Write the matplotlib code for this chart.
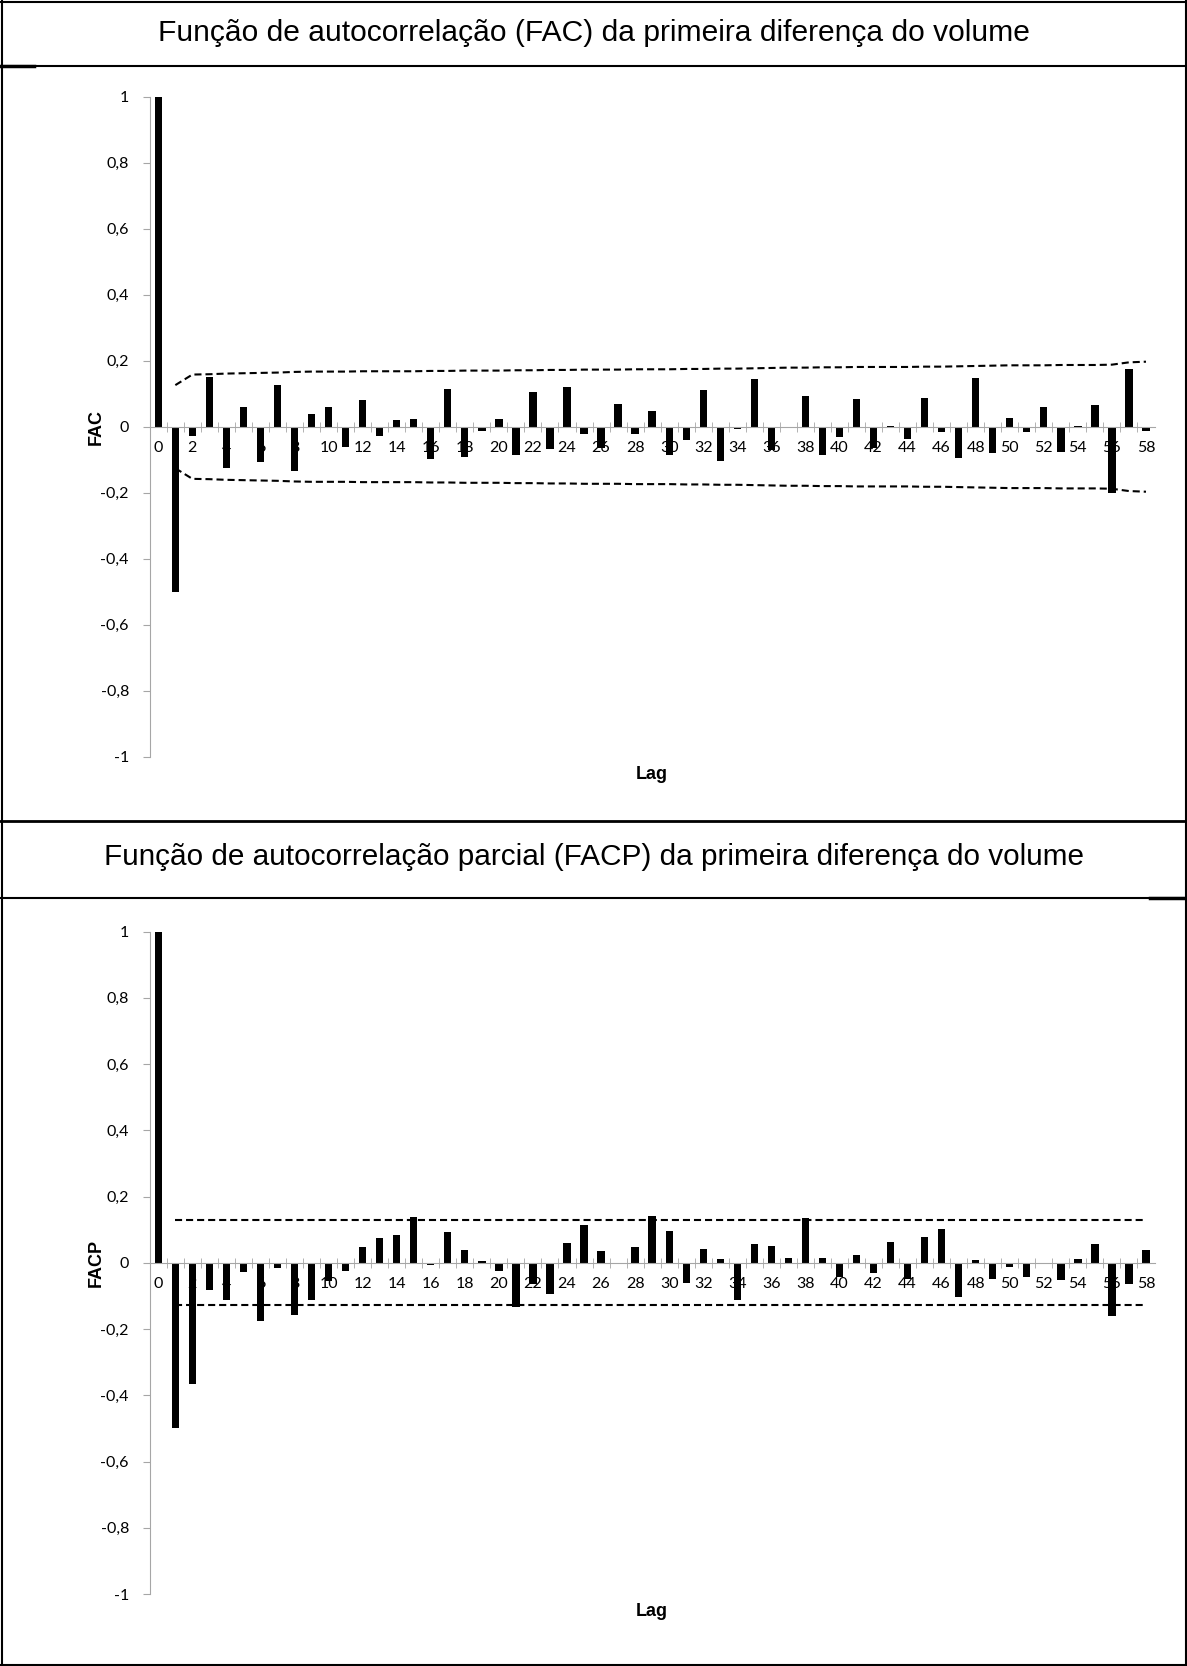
import matplotlib
matplotlib.use("Agg")
import matplotlib.pyplot as plt
from matplotlib.lines import Line2D
from matplotlib.ticker import FixedLocator

# lags 0..58
lags = list(range(59))

fac = [1.0, -0.5, -0.027, 0.152, -0.126, 0.061, -0.106, 0.126, -0.134, 0.040,
       0.061, -0.061, 0.081, -0.027, 0.019, 0.023, -0.099, 0.114, -0.091, -0.013,
       0.024, -0.086, 0.104, -0.068, 0.121, -0.022, -0.066, 0.068, -0.021, 0.048,
       -0.086, -0.040, 0.111, -0.103, -0.008, 0.146, -0.071, -0.002, 0.093, -0.086,
       -0.032, 0.084, -0.066, 0.001, -0.037, 0.087, -0.017, -0.096, 0.148, -0.081,
       0.027, -0.017, 0.059, -0.076, 0.002, 0.066, -0.200, 0.176, -0.014]

facp = [1.0, -0.5, -0.367, -0.083, -0.111, -0.029, -0.175, -0.015, -0.157, -0.111,
        -0.056, -0.024, 0.048, 0.075, 0.084, 0.137, -0.007, 0.092, 0.040, 0.005,
        -0.024, -0.135, -0.063, -0.095, 0.061, 0.113, 0.035, 0.0, 0.049, 0.140,
        0.096, -0.061, 0.043, 0.012, -0.113, 0.057, 0.052, 0.014, 0.134, 0.013,
        -0.042, 0.023, -0.032, 0.064, -0.049, 0.078, 0.102, -0.103, 0.008, -0.048,
        -0.013, -0.042, -0.002, -0.053, 0.012, 0.057, -0.160, -0.065, 0.038]

# confidence band of the FAC, lags 1..58 (upper limit; lower is the negative)
band_lags = list(range(1, 59))
fac_band = [0.126, 0.158, 0.159, 0.161, 0.162, 0.163, 0.164, 0.166, 0.167, 0.167,
            0.167, 0.168, 0.168, 0.168, 0.168, 0.169, 0.169, 0.170, 0.170, 0.170,
            0.171, 0.171, 0.172, 0.172, 0.173, 0.173, 0.173, 0.174, 0.174, 0.174,
            0.175, 0.175, 0.176, 0.176, 0.177, 0.178, 0.179, 0.179, 0.180, 0.180,
            0.181, 0.181, 0.181, 0.181, 0.182, 0.182, 0.183, 0.184, 0.185, 0.186,
            0.186, 0.186, 0.187, 0.187, 0.187, 0.188, 0.195, 0.197]
facp_band = [0.128] * 58

titles = ["Função de autocorrelação (FAC) da primeira diferença do volume",
          "Função de autocorrelação parcial (FACP) da primeira diferença do volume"]
ylabels = ["FAC", "FACP"]
yticks = [-1, -0.8, -0.6, -0.4, -0.2, 0, 0.2, 0.4, 0.6, 0.8, 1]
ytick_labels = ["-1", "-0,8", "-0,6", "-0,4", "-0,2", "0", "0,2", "0,4", "0,6", "0,8", "1"]

W, H = 1187, 1666
fig = plt.figure(figsize=(W / 100, H / 100), dpi=100)
gray = "#a6a6a6"


def draw(ax, vals, band, ylab):
    ax.bar(lags, vals, width=0.43, color="black", zorder=2)
    ax.plot(band_lags, band, color="black", lw=1.5, dashes=(3.4, 1.9), zorder=3)
    ax.plot(band_lags, [-b for b in band], color="black", lw=1.5, dashes=(3.4, 1.9), zorder=3)
    ax.set_xlim(-0.5, 58.5)
    ax.set_ylim(-1, 1)
    ax.set_axisbelow(True)
    for s in ["top", "right"]:
        ax.spines[s].set_visible(False)
    ax.spines["bottom"].set_position(("data", 0))
    ax.spines["bottom"].set_color(gray)
    ax.spines["left"].set_color(gray)
    ax.xaxis.set_major_locator(FixedLocator(lags[::2]))
    ax.set_xticklabels([str(l) for l in lags[::2]], fontfamily="Lato", fontsize=11.5)
    ax.xaxis.set_minor_locator(FixedLocator([l + 0.5 for l in lags[:-1]] + [-0.5]))
    ax.tick_params(axis="x", which="major", length=0, pad=10)
    ax.tick_params(axis="x", which="minor", length=7, direction="inout", color=gray)
    ax.set_yticks(yticks)
    ax.set_yticklabels(ytick_labels, fontfamily="Lato", fontsize=11.5)
    ax.tick_params(axis="y", length=5, direction="out", color=gray, pad=10)
    ax.set_ylabel(ylab, fontfamily="Liberation Sans", fontweight="bold", fontsize=13)
    ax.yaxis.set_label_coords(-0.045, 0.5)
    ax.set_xlabel("Lag", fontfamily="Liberation Sans", fontweight="bold", fontsize=13)
    ax.xaxis.set_label_coords(0.5, -0.014)


left = 149.8 / W
width = (1154.5 - 149.8) / W
ax1 = fig.add_axes([left, 1 - 756.7 / H, width, 660 / H])
draw(ax1, fac, fac_band, ylabels[0])
ax2 = fig.add_axes([left, 1 - 1594 / H, width, 662.5 / H])
draw(ax2, facp, facp_band, ylabels[1])

# titles and table-like frame
fig.text(0.5, 1 - 33 / H, titles[0], ha="center", va="center",
         fontfamily="Liberation Sans", fontsize=21.6)
fig.text(0.5, 1 - 857 / H, titles[1], ha="center", va="center",
         fontfamily="Liberation Sans", fontsize=21.4)

def hline(y, x0=0, x1=W, lw=1.5):
    fig.add_artist(Line2D([x0 / W, x1 / W], [1 - y / H, 1 - y / H], color="black", lw=lw))

def vline(x, y0=0, y1=H, lw=1.5):
    fig.add_artist(Line2D([x / W, x / W], [1 - y0 / H, 1 - y1 / H], color="black", lw=lw))

hline(1.5)
hline(H - 1.5)
vline(1.5)
vline(W - 1.5)
hline(66)
hline(66, 0, 34, lw=2.5)
hline(821, lw=2)
hline(898)
hline(898, 1150, W, lw=2.5)

fig.savefig("out.png", dpi=100)
